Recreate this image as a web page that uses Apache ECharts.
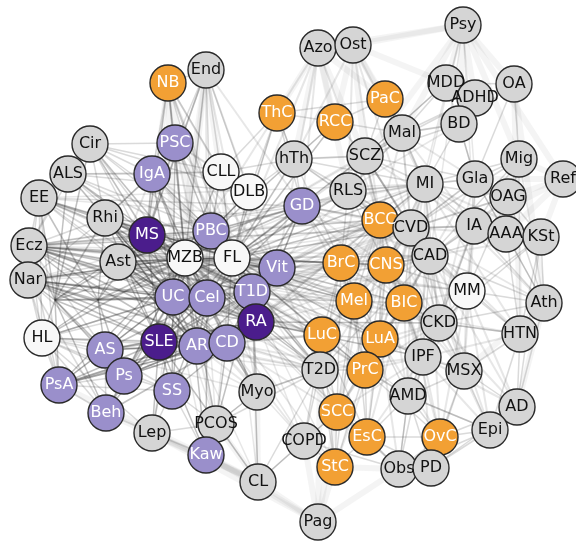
<!DOCTYPE html>
<html>
<head>
<meta charset="UTF-8">
<title>Disease network</title>
<style>
    html, body { margin:0; padding:0; background:#ffffff; }
    #main { width:576px; height:541px; }
</style>
<script src="https://cdn.jsdelivr.net/npm/echarts@6/dist/echarts.min.js"></script>
</head>
<body>
<div id="main"></div>
<script type="text/javascript">
// node names and their positions (pixel units)
var nodeNames = ['Psy','Azo','Ost','NB','End','MDD','ADHD','OA','ThC','PaC','RCC','Mal','BD','PSC','Cir','ALS','IgA','CLL','DLB','hTh','SCZ','Mig','Ref','EE','Rhi','GD','RLS','MI','Gla','OAG','IA','AAA','KSt','BCC','CVD','CAD','Ecz','MS','PBC','MZB','FL','Ast','Nar','Vit','BrC','CNS','MM','UC','Cel','T1D','RA','Mel','BIC','Ath','CKD','HL','AS','SLE','AR','CD','LuC','LuA','HTN','IPF','T2D','PrC','MSX','PsA','Ps','SS','Myo','AMD','AD','Beh','Lep','PCOS','SCC','Epi','COPD','EsC','OvC','Kaw','CL','StC','Obs','PD','Pag'];
var nodeX = [463,318,353,168,206,446,475,514,277,385,335,402,459,175,90,68,152,221,249,294,365,519,563,39,105,302,348,425,475,508,474,506,541,380,411,430,29,147,211,185,232,118,28,277,341,386,467,173,207,252,256,354,404,544,439,42,105,159,197,227,322,380,520,423,320,365,464,59,124,172,257,408,517,106,152,216,337,490,304,367,440,206,258,335,399,431,318];
var nodeY = [25,48,45,83,70,83,98,84,113,99,122,133,124,143,144,174,174,172,192,159,156,159,179,198,218,206,191,184,179,197,226,234,237,220,228,256,246,235,231,258,258,262,280,268,263,265,291,297,298,292,322,301,303,303,323,338,350,342,346,343,335,339,334,357,370,370,371,385,376,391,392,396,407,413,433,424,412,430,441,437,437,455,482,467,469,468,522];

// node groups
var orangeNodes = ['NB','ThC','PaC','RCC','BCC','BrC','CNS','Mel','BIC','LuC','LuA','PrC','SCC','EsC','StC','OvC'];
var lightPurpleNodes = ['PSC','IgA','GD','PBC','Vit','T1D','UC','Cel','AR','CD','AS','Ps','PsA','SS','Beh','Kaw'];
var darkPurpleNodes = ['MS','RA','SLE'];
var whiteNodes = ['CLL','DLB','MZB','FL','HL','MM'];

// two hidden junction points on the left
var hiddenNames = ['h1','h2'];
var hiddenX = [55, 98];
var hiddenY = [300, 300];

// adjacency lists: "node: neighbours"
var coreLinks = [
    'MZB: FL MS PBC UC Cel T1D RA SLE AR CD Vit IgA PSC CLL DLB Ast Rhi Ecz EE ALS Cir Nar HL AS Ps PsA SS Beh GD hTh BrC Mel LuC T2D Myo PCOS Lep Kaw NB End h1 h2',
    'FL: MS PBC UC Cel T1D RA SLE AR CD Vit CLL DLB GD hTh RLS BCC BrC CNS Mel BIC LuC LuA PrC T2D CVD SCZ MI ThC RCC Ast Rhi h2',
    'UC: Cel T1D RA SLE AR CD MS PBC PSC IgA AS Ps PsA SS Beh Vit Ast Rhi Ecz Nar HL h1 h2',
    'Cel: T1D RA SLE AR CD MS PBC Vit GD IgA SS Ps AS Kaw h2',
    'T1D: RA SLE CD Vit GD MS PBC T2D Myo CL PCOS',
    'RA: SLE AR CD Vit MS PsA AS SS LuC T2D CKD IPF',
    'SLE: AR CD MS AS Ps PsA SS Beh Kaw Lep CL h1',
    'AR: CD Ps PsA SS Ast Ecz Rhi',
    'CD: AS Ps PsA Beh Myo PCOS',
    'MS: PBC PSC IgA Rhi Ast Ecz EE ALS Cir NB End h1 h2',
    'PBC: PSC IgA CLL DLB Vit GD',
    'h1: Ecz Nar HL EE ALS Cir Rhi Ast AS PsA Ps h2 Beh',
    'h2: Ecz Nar HL Ast Rhi AS Ps EE',
    'Rhi: FL UC Cel T1D PBC IgA SLE AR CD',
    'Ast: FL UC Cel T1D RA SLE AR CD PBC Vit GD',
    'Nar: MZB FL UC Cel SLE AR CD RA',
    'Ecz: FL Vit T1D RA CD Cel',
    'Vit: T1D RA CD AR SLE GD'
];
var midLinks = [
    'Ecz: Rhi Ast EE Nar ALS Cir HL AS PsA CVD MI BCC GD LuC Mel',
    'EE: ALS Cir Rhi Ast Nar HL PsA FL Vit GD Cel UC T1D',
    'Nar: HL Ast Rhi PsA AS Beh',
    'HL: PsA AS Ps Beh Lep UC Cel SLE AR CD SS',
    'Cir: ALS IgA PSC Rhi FL PBC UC Cel CLL DLB',
    'ALS: Rhi IgA FL PBC UC Cel DLB CLL',
    'AS: Ps PsA Beh SS AR CD RA',
    'Ps: PsA Beh SS AR CD RA T1D',
    'PsA: Beh SS RA CD',
    'hTh: GD RLS SCZ ThC RCC CLL DLB BCC BrC MI',
    'GD: RLS BCC BrC ThC Vit',
    'SCZ: RLS Mal BD MDD ADHD PaC RCC MI CVD BCC Gla',
    'RLS: BCC BrC CNS MI CVD Mal',
    'BCC: CVD BrC CNS Mel BIC CAD MI LuA',
    'CVD: CAD MI CNS BIC CKD MM IA Gla',
    'CAD: MI CKD MM IA AAA T2D HTN Ath IPF MSX',
    'MI: Gla IA OAG BD Mal CKD AAA',
    'BrC: CNS Mel BIC LuC LuA PrC T2D SCC',
    'CNS: Mel BIC LuA PrC MM',
    'Mel: BIC LuC LuA PrC SCC EsC StC',
    'BIC: LuA PrC CKD IPF',
    'LuC: LuA T2D PrC SCC COPD EsC StC',
    'LuA: PrC IPF AMD SCC EsC',
    'T2D: PrC SCC COPD Myo CL PCOS StC',
    'PrC: SCC EsC StC AMD OvC',
    'SCC: EsC StC COPD Obs CL',
    'EsC: StC OvC Obs PD AMD',
    'COPD: StC CL Obs',
    'IPF: MSX CKD AMD MM',
    'CKD: MM MSX HTN IA',
    'MSX: AMD AD Epi HTN OvC PD',
    'AMD: OvC PD Obs Epi',
    'OvC: PD Obs Epi AD',
    'AD: Epi HTN Ath PD',
    'HTN: Ath MM KSt AAA CKD Epi',
    'Ath: MM KSt AAA IA OAG Gla CKD',
    'Gla: OAG IA Mig AAA BD',
    'OAG: IA AAA KSt Mig CAD CVD MM',
    'IA: AAA KSt MM',
    'AAA: KSt',
    'KSt: MM CKD AD',
    'Mig: IA AAA MI CVD CAD',
    'MDD: ADHD BD OA SCZ Mal',
    'ADHD: BD OA Mal',
    'BD: Mal Gla',
    'OA: Mig Gla BD',
    'PaC: RCC Mal ThC',
    'RCC: ThC Mal hTh',
    'ThC: hTh DLB CLL',
    'NB: End PSC IgA CLL PBC',
    'End: PSC CLL PBC DLB',
    'Kaw: PCOS Lep SS',
    'PCOS: Myo Lep SS',
    'Myo: PCOS T2D',
    'Lep: Beh SS',
    'Epi: PD Obs AMD',
    'Obs: PD AMD IPF'
];
var denseLinks = [
    'BCC: RLS SCZ hTh GD Vit T1D RA CD Cel UC MS MM CKD IPF PrC LuC T2D SCC',
    'CVD: RLS SCZ Mal BrC Mel LuC LuA PrC T2D IPF AMD MSX HTN Ath AAA OAG',
    'CAD: SCZ RLS BrC CNS Mel BIC LuA PrC AMD OvC Epi AD KSt',
    'MI: RLS BCC BrC CNS BIC LuA IPF MSX HTN Ath KSt',
    'CNS: MI CAD CKD IPF AMD MSX SCC EsC',
    'BIC: CAD MM IPF MSX AMD SCC EsC OvC',
    'LuA: CKD MSX OvC StC Obs',
    'CKD: T2D PrC AMD Epi AD',
    'IPF: PrC T2D SCC EsC OvC PD Epi AD HTN',
    'MM: MSX AMD AD Epi OvC',
    'Mal: RLS MI BCC CVD Gla BD IA',
    'SCZ: hTh GD BrC CNS CAD IA',
    'Gla: MI CVD CAD MM CKD',
    'IA: CVD CAD CKD IPF MSX',
    'Vit: BCC BrC CNS Mel LuC LuA PrC T2D CVD CAD MI RLS',
    'GD: CVD MI CAD CNS Mel BIC',
    'T1D: BrC Mel LuC LuA PrC CVD CAD CKD',
    'CD: LuC T2D PrC SCC COPD Myo',
    'AR: LuC T2D Myo PCOS',
    'NB: MZB FL T1D Vit RA',
    'End: MS Cel T1D Vit GD',
    'Azo: FL MZB GD Vit BCC',
    'Ost: RLS BCC CVD MI hTh',
    'PSC: CLL DLB FL Cel T1D Vit',
    'IgA: CLL FL Cel T1D Vit Rhi Ast'
];
var crossLinks = [
    'MZB: Mal SCZ RLS BCC CVD CAD MI CNS BIC LuA PrC SCC EsC COPD StC AMD IPF CKD MM Obs',
    'FL: CAD CKD IPF AMD SCC EsC StC COPD Myo PCOS CL MM Mal BD',
    'UC: LuC T2D Myo PCOS CL Lep Kaw COPD BrC Mel',
    'Cel: LuC T2D Myo PCOS BrC Mel CNS CVD',
    'SLE: LuC T2D Myo CVD CAD',
    'RA: CVD CAD MI BrC Mel',
    'Psy: CVD MI Gla IA CAD',
    'Mig: Ath HTN',
    'Ecz: IA CAD MM HTN',
    'EE: MI CVD',
    'HL: T2D Myo',
    'Nar: Vit GD T2D'
];
var wideLinks = [
    'Psy: MDD ADHD BD OA SCZ Mal Ost Azo Mig Ref',
    'Azo: Ost RCC PaC ThC SCZ hTh RLS',
    'Ost: RCC PaC SCZ Mal MDD',
    'Ref: Gla OAG Mig KSt AAA IA',
    'CL: Kaw PCOS Myo Lep Pag Beh PsA',
    'Pag: Kaw Obs StC COPD T2D SCC Lep',
    'StC: Obs',
    'NB: MS UC Cel',
    'End: MZB FL UC',
    'OA: HTN Ath',
    'Ath: AD MSX'
];

function expand(list) {
    var out = [];
    list.forEach(function (row) {
        var parts = row.split(':');
        var src = parts[0].trim();
        parts[1].trim().split(/\s+/).forEach(function (t) {
            out.push({ source: src, target: t });
        });
    });
    return out;
}

function fillFor(name) {
    if (orangeNodes.indexOf(name) >= 0) return '#f2a034';
    if (lightPurpleNodes.indexOf(name) >= 0) return '#9a8fcb';
    if (darkPurpleNodes.indexOf(name) >= 0) return '#4b1d8c';
    if (whiteNodes.indexOf(name) >= 0) return '#f8f8f8';
    return '#d5d5d5';
}
function textFor(name) {
    if (orangeNodes.indexOf(name) >= 0 || lightPurpleNodes.indexOf(name) >= 0 ||
        darkPurpleNodes.indexOf(name) >= 0) return '#ffffff';
    return '#111111';
}

var nodes = [];
hiddenNames.forEach(function (n, i) {
    nodes.push({ name: n, value: [hiddenX[i], hiddenY[i]], symbolSize: 0,
        label: { show: false }, itemStyle: { opacity: 0 } });
});
nodeNames.forEach(function (n, i) {
    nodes.push({
        name: n,
        value: [nodeX[i], nodeY[i]],
        itemStyle: { color: fillFor(n) },
        label: { color: textFor(n) }
    });
});

var links = [];
expand(wideLinks).forEach(function (l) {
    l.lineStyle = { width: 6, opacity: 0.08, color: '#777' };
    links.push(l);
});
expand(crossLinks).forEach(function (l) {
    l.lineStyle = { width: 1.5, opacity: 0.14, color: '#555' };
    links.push(l);
});
expand(denseLinks).forEach(function (l) {
    l.lineStyle = { width: 2, opacity: 0.14, color: '#555' };
    links.push(l);
});
expand(midLinks).forEach(function (l) {
    l.lineStyle = { width: 1.5, opacity: 0.2, color: '#444' };
    links.push(l);
});
expand(coreLinks).forEach(function (l) {
    l.lineStyle = { width: 1.5, opacity: 0.3, color: '#333' };
    links.push(l);
});

var myChart = echarts.init(document.getElementById('main'));
var option = {
    backgroundColor: '#ffffff',
    animation: false,
    grid: { left: 0, right: 0, top: 0, bottom: 0 },
    xAxis: { type: 'value', min: 0, max: 576, show: false },
    yAxis: { type: 'value', min: 0, max: 541, inverse: true, show: false },
    series: [{
        type: 'graph',
        coordinateSystem: 'cartesian2d',
        layout: 'none',
        symbol: 'circle',
        symbolSize: 36,
        itemStyle: { borderColor: '#2a2a2a', borderWidth: 1.4 },
        label: {
            show: true,
            position: 'inside',
            fontFamily: 'DejaVu Sans',
            fontSize: 16
        },
        emphasis: { disabled: true },
        data: nodes,
        links: links
    }]
};
myChart.setOption(option);
</script>
</body>
</html>
